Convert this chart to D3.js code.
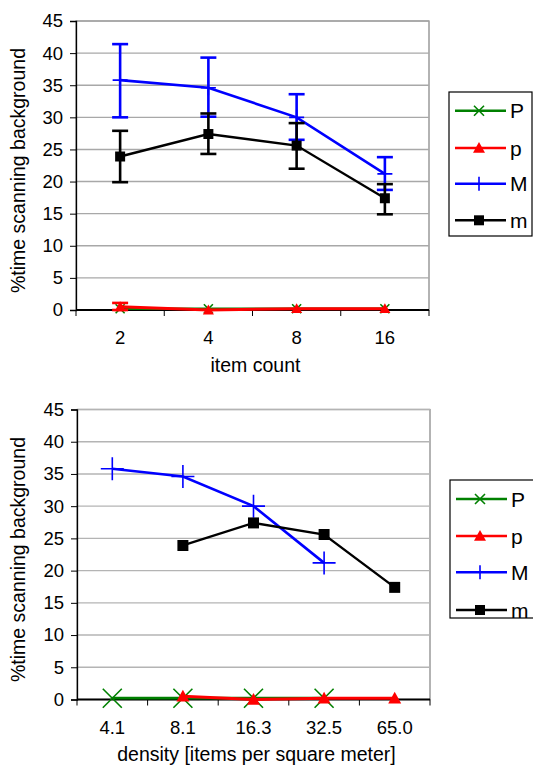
<!DOCTYPE html>
<html>
<head>
<meta charset="utf-8">
<script src="https://cdn.jsdelivr.net/npm/d3@7"></script>
<style>
  html, body { margin: 0; padding: 0; background: #fff; }
  svg { display: block; font-family: "Liberation Sans", Arial, sans-serif; }
</style>
</head>
<body>
<svg id="chart" width="533" height="766"></svg>
<script>
// ---- data ----
const countLabels = ["2", "4", "8", "16"];
const densityLabels = ["4.1", "8.1", "16.3", "32.5", "65.0"];
const seriesNames = ["P", "p", "M", "m"];
const seriesColors = ["#008000", "#ff0000", "#0000ff", "#000000"];
const seriesSymbols = ["cross", "triangle", "plus", "square"];

const valuesP = [0.2, 0.2, 0.2, 0.2];
const valuesp = [0.5, 0.0, 0.2, 0.2];
const valuesM = [35.8, 34.6, 30.0, 21.2];
const valuesm = [23.9, 27.4, 25.6, 17.4];

// error bar extents (low, high) per item count
const lowP = [0.2, 0.2, 0.2, 0.2];
const highP = [0.2, 0.2, 0.2, 0.2];
const lowp = [0.0, 0.0, 0.1, 0.1];
const highp = [1.1, 0.1, 0.3, 0.3];
const lowM = [30.0, 30.1, 26.5, 18.7];
const highM = [41.4, 39.3, 33.6, 23.8];
const lowm = [19.9, 24.3, 22.0, 14.9];
const highm = [27.9, 30.6, 29.1, 19.6];

// position of each series' first value on the density axis
const densityOffset = [0, 1, 0, 1];

const yTicks = [0, 5, 10, 15, 20, 25, 30, 35, 40, 45];

const seriesValues = [valuesP, valuesp, valuesM, valuesm];
const seriesLow = [lowP, lowp, lowM, lowm];
const seriesHigh = [highP, highp, highM, highm];

const svg = d3.select("#chart");

function symbolPath(kind, size) {
  const h = size / 2;
  if (kind === "cross") return `M${-h},${-h}L${h},${h}M${-h},${h}L${h},${-h}`;
  if (kind === "plus") return `M${-h},0L${h},0M0,${-h}L0,${h}`;
  if (kind === "square") return `M${-h},${-h}H${h}V${h}H${-h}Z`;
  // triangle
  return `M0,${-h}L${h},${h * 0.8}L${-h},${h * 0.8}Z`;
}

function drawMarker(g, kind, color, x, y, size) {
  const filled = kind === "square" || kind === "triangle";
  g.append("path")
    .attr("transform", `translate(${x},${y})`)
    .attr("d", symbolPath(kind, size))
    .attr("fill", filled ? color : "none")
    .attr("stroke", color)
    .attr("stroke-width", filled ? 0 : 1.6);
}

function drawChart(opt) {
  const g = svg.append("g");
  const x = d3.scaleBand().domain(opt.labels).range([opt.left, opt.right]);
  const y = d3.scaleLinear().domain([0, 45]).range([opt.bottom, opt.top]);

  // plot frame and gridlines
  g.append("rect")
    .attr("x", opt.left).attr("y", opt.top)
    .attr("width", opt.right - opt.left).attr("height", opt.bottom - opt.top)
    .attr("fill", "#fff").attr("stroke", "#808080").attr("stroke-width", 1.2);
  g.selectAll("line.grid").data(yTicks.filter(t => t > 0)).join("line")
    .attr("x1", opt.left).attr("x2", opt.right)
    .attr("y1", d => y(d)).attr("y2", d => y(d))
    .attr("stroke", opt.gridColor).attr("stroke-width", 1.4);

  // y axis
  const yAxis = g.append("g").attr("transform", `translate(${opt.left},0)`)
    .call(d3.axisLeft(y).tickValues(yTicks).tickSize(6).tickPadding(7));
  yAxis.select(".domain").attr("stroke", "#000").attr("stroke-width", 1.3);
  yAxis.selectAll(".tick line").attr("stroke", "#000");
  yAxis.selectAll("text").attr("font-size", 18.5).attr("fill", "#000")
    .attr("font-family", "Liberation Sans, Arial, sans-serif");

  // x axis: ticks at category boundaries
  const xAxisG = g.append("g").attr("transform", `translate(0,${opt.bottom})`);
  xAxisG.append("line").attr("x1", opt.left).attr("x2", opt.right)
    .attr("stroke", "#000").attr("stroke-width", 2);
  const bounds = opt.labels.map(l => x(l)).concat([opt.right]);
  xAxisG.selectAll("line.tk").data(bounds).join("line")
    .attr("x1", d => d).attr("x2", d => d).attr("y1", 0).attr("y2", 6)
    .attr("stroke", "#000").attr("stroke-width", 1);
  xAxisG.selectAll("text").data(opt.labels).join("text")
    .attr("x", d => x(d) + x.bandwidth() / 2).attr("y", opt.tickLabelDy)
    .attr("text-anchor", "middle").attr("font-size", 18.5).text(d => d);

  // axis titles
  g.append("text")
    .attr("transform", `translate(25,${(opt.top + opt.bottom) / 2 + 5}) rotate(-90)`)
    .attr("text-anchor", "middle").attr("font-size", 19.5)
    .text("%time scanning background");
  g.append("text")
    .attr("x", (opt.left + opt.right) / 2 + 3).attr("y", opt.bottom + opt.titleDy)
    .attr("text-anchor", "middle").attr("font-size", 19.5)
    .text(opt.title);

  // series
  seriesNames.forEach((name, si) => {
    const vals = seriesValues[si];
    const off = opt.offsets[si];
    const pts = vals.map((v, i) => ({
      cx: x(opt.labels[i + off]) + x.bandwidth() / 2,
      v, lo: seriesLow[si][i], hi: seriesHigh[si][i]
    }));
    const color = seriesColors[si];
    const sg = g.append("g");
    if (opt.errorBars) {
      pts.forEach(p => {
        if (p.hi - p.lo < 0.3) return;
        sg.append("line").attr("x1", p.cx).attr("x2", p.cx)
          .attr("y1", y(p.lo)).attr("y2", y(p.hi))
          .attr("stroke", color).attr("stroke-width", 2.6);
        [p.lo, p.hi].forEach(e => {
          sg.append("line").attr("x1", p.cx - 8).attr("x2", p.cx + 8)
            .attr("y1", y(e)).attr("y2", y(e))
            .attr("stroke", color).attr("stroke-width", 2.6);
        });
      });
    }
    sg.append("path")
      .attr("d", d3.line().x(p => p.cx).y(p => y(p.v))(pts))
      .attr("fill", "none").attr("stroke", color)
      .attr("stroke-width", opt.lineWidths[si]);
    pts.forEach(p => drawMarker(sg, seriesSymbols[si], color, p.cx, y(p.v), opt.markerSizes[si]));
  });

  // legend
  const lg = g.append("g");
  lg.append("rect").attr("x", opt.legend.x).attr("y", opt.legend.y)
    .attr("width", opt.legend.w).attr("height", opt.legend.h)
    .attr("fill", "#fff").attr("stroke", "#000").attr("stroke-width", 1.2);
  seriesNames.forEach((name, si) => {
    const ly = opt.legend.rows[si];
    lg.append("line").attr("x1", opt.legend.x + 6).attr("x2", opt.legend.x + 57)
      .attr("y1", ly).attr("y2", ly)
      .attr("stroke", seriesColors[si]).attr("stroke-width", 2.6);
    drawMarker(lg, seriesSymbols[si], seriesColors[si], opt.legend.x + 30, ly, opt.legendMarker[si]);
    lg.append("text").attr("x", opt.legend.x + 61).attr("y", ly + 7.5)
      .attr("font-size", 21).text(name);
  });
}

drawChart({
  labels: countLabels, left: 76, right: 429, top: 21, bottom: 310,
  offsets: [0, 0, 0, 0], errorBars: true,
  tickLabelDy: 34, titleDy: 62, title: "item count",
  gridColor: "#a8a8a8",
  lineWidths: [2.6, 3, 2.6, 2.4],
  markerSizes: [9, 11, 15, 10],
  legend: { x: 449, y: 92, w: 83, h: 144, rows: [110.7, 148, 183.7, 220.3] },
  legendMarker: [10, 12, 14, 10]
});

drawChart({
  labels: densityLabels, left: 77, right: 430, top: 409.5, bottom: 699.5,
  offsets: densityOffset, errorBars: false,
  tickLabelDy: 34, titleDy: 61, title: "density [items per square meter]",
  gridColor: "#b4b4b4",
  lineWidths: [2.8, 3, 2.6, 2.4],
  markerSizes: [19, 13, 23, 11],
  legend: { x: 450, y: 480, w: 95, h: 138, rows: [499, 536, 572.3, 610] },
  legendMarker: [10, 12, 14, 10]
});
</script>
</body>
</html>
